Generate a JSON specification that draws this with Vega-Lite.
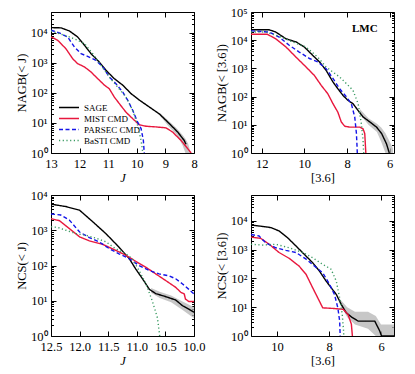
{
  "$schema": "https://vega.github.io/schema/vega-lite/v6.json",
  "background": "white",
  "padding": {"left": 14, "top": 5, "right": 5, "bottom": 0},
  "columns": 2,
  "spacing": {"row": 42, "column": 57},
  "bounds": "flush",
  "resolve": {"scale": {"color": "independent", "strokeDash": "independent"}, "legend": {"color": "independent", "strokeDash": "independent"}},
  "config": {
    "view": {"stroke": "black", "strokeWidth": 1},
    "axis": {"domain": false, "grid": false, "labelFont": "Liberation Serif", "labelFontSize": 12.5, "labelColor": "black", "titleFont": "Liberation Serif", "titleFontSize": 12.5, "titleFontWeight": "normal", "titleColor": "black", "tickColor": "black", "tickWidth": 1, "labelFlush": false, "labelOverlap": false, "labelPadding": 9},
    "legend": {"labelFont": "Liberation Serif", "labelFontSize": 9, "labelColor": "black"}
  },
  "datasets": {
    "tl": [
      {"s":"SAGE","x":13.0,"n":15100},{"s":"SAGE","x":12.65,"n":14800},{"s":"SAGE","x":12.36,"n":11700},{"s":"SAGE","x":12.07,"n":7400},{"s":"SAGE","x":11.83,"n":3900},{"s":"SAGE","x":11.6,"n":2040},{"s":"SAGE","x":11.31,"n":1070},{"s":"SAGE","x":11.08,"n":575},{"s":"SAGE","x":10.79,"n":302},{"s":"SAGE","x":10.49,"n":182},{"s":"SAGE","x":10.2,"n":95},{"s":"SAGE","x":9.91,"n":58},{"s":"SAGE","x":9.56,"n":34},{"s":"SAGE","x":9.21,"n":20},{"s":"SAGE","x":8.86,"n":9.5},{"s":"SAGE","x":8.57,"n":5.0},{"s":"SAGE","x":8.34,"n":2.6},{"s":"SAGE","x":8.28,"n":1.95},
      {"s":"MIST CMD","x":13.0,"n":7400},{"s":"MIST CMD","x":12.77,"n":5750},{"s":"MIST CMD","x":12.48,"n":3000},{"s":"MIST CMD","x":12.24,"n":1380},{"s":"MIST CMD","x":12.07,"n":955},{"s":"MIST CMD","x":11.83,"n":740},{"s":"MIST CMD","x":11.6,"n":500},{"s":"MIST CMD","x":11.37,"n":302},{"s":"MIST CMD","x":11.13,"n":182},{"s":"MIST CMD","x":10.96,"n":138},{"s":"MIST CMD","x":10.79,"n":74},{"s":"MIST CMD","x":10.61,"n":44},{"s":"MIST CMD","x":10.38,"n":23},{"s":"MIST CMD","x":10.14,"n":13.8},{"s":"MIST CMD","x":9.91,"n":8.7},{"s":"MIST CMD","x":9.68,"n":7.8},{"s":"MIST CMD","x":9.33,"n":7.4},{"s":"MIST CMD","x":8.98,"n":6.9},{"s":"MIST CMD","x":8.75,"n":5.0},{"s":"MIST CMD","x":8.45,"n":2.6},{"s":"MIST CMD","x":8.22,"n":1.4},{"s":"MIST CMD","x":8.1,"n":1},
      {"s":"PARSEC CMD","x":13.0,"n":12300},{"s":"PARSEC CMD","x":12.71,"n":10000},{"s":"PARSEC CMD","x":12.42,"n":7400},{"s":"PARSEC CMD","x":12.18,"n":3400},{"s":"PARSEC CMD","x":11.95,"n":2040},{"s":"PARSEC CMD","x":11.72,"n":1660},{"s":"PARSEC CMD","x":11.43,"n":1230},{"s":"PARSEC CMD","x":11.19,"n":740},{"s":"PARSEC CMD","x":10.96,"n":340},{"s":"PARSEC CMD","x":10.73,"n":204},{"s":"PARSEC CMD","x":10.49,"n":107},{"s":"PARSEC CMD","x":10.32,"n":58},{"s":"PARSEC CMD","x":10.14,"n":26},{"s":"PARSEC CMD","x":9.97,"n":10.7},{"s":"PARSEC CMD","x":9.85,"n":6.5},{"s":"PARSEC CMD","x":9.77,"n":2.6},{"s":"PARSEC CMD","x":9.74,"n":1},
      {"s":"BaSTI CMD","x":13.0,"n":11700},{"s":"BaSTI CMD","x":12.71,"n":9500},{"s":"BaSTI CMD","x":12.36,"n":7400},{"s":"BaSTI CMD","x":12.07,"n":5750},{"s":"BaSTI CMD","x":11.83,"n":4400},{"s":"BaSTI CMD","x":11.54,"n":2040},{"s":"BaSTI CMD","x":11.25,"n":830},{"s":"BaSTI CMD","x":10.96,"n":340},{"s":"BaSTI CMD","x":10.67,"n":158},{"s":"BaSTI CMD","x":10.38,"n":74},{"s":"BaSTI CMD","x":10.14,"n":26},{"s":"BaSTI CMD","x":9.97,"n":8.3},{"s":"BaSTI CMD","x":9.85,"n":2.6},{"s":"BaSTI CMD","x":9.79,"n":1}
    ],
    "tl_band": [
      {"x":9.2,"lo":18,"hi":22},{"x":8.9,"lo":8,"hi":12},{"x":8.6,"lo":4,"hi":6.5},{"x":8.4,"lo":1.8,"hi":4},{"x":8.3,"lo":1,"hi":3},{"x":8.2,"lo":1,"hi":2},{"x":8.15,"lo":1,"hi":1.3}
    ],
    "tr": [
      {"s":"SAGE","x":12.5,"n":23400},{"s":"SAGE","x":11.65,"n":23400},{"s":"SAGE","x":11.34,"n":19500},{"s":"SAGE","x":10.86,"n":11200},{"s":"SAGE","x":10.39,"n":8700},{"s":"SAGE","x":10.0,"n":5750},{"s":"SAGE","x":9.61,"n":2900},{"s":"SAGE","x":9.29,"n":1700},{"s":"SAGE","x":8.98,"n":850},{"s":"SAGE","x":8.66,"n":330},{"s":"SAGE","x":8.43,"n":190},{"s":"SAGE","x":8.19,"n":110},{"s":"SAGE","x":7.96,"n":74},{"s":"SAGE","x":7.72,"n":56},{"s":"SAGE","x":7.48,"n":32},{"s":"SAGE","x":7.25,"n":19},{"s":"SAGE","x":6.93,"n":12.6},{"s":"SAGE","x":6.62,"n":8.3},{"s":"SAGE","x":6.38,"n":4.9},{"s":"SAGE","x":6.15,"n":2.1},{"s":"SAGE","x":6.02,"n":1},
      {"s":"MIST CMD","x":12.5,"n":16200},{"s":"MIST CMD","x":11.73,"n":16200},{"s":"MIST CMD","x":11.34,"n":11200},{"s":"MIST CMD","x":10.86,"n":5750},{"s":"MIST CMD","x":10.39,"n":2500},{"s":"MIST CMD","x":9.92,"n":1120},{"s":"MIST CMD","x":9.53,"n":560},{"s":"MIST CMD","x":9.21,"n":250},{"s":"MIST CMD","x":8.9,"n":126},{"s":"MIST CMD","x":8.66,"n":56},{"s":"MIST CMD","x":8.43,"n":28},{"s":"MIST CMD","x":8.27,"n":12.6},{"s":"MIST CMD","x":8.11,"n":8.9},{"s":"MIST CMD","x":7.88,"n":8.3},{"s":"MIST CMD","x":7.41,"n":8.3},{"s":"MIST CMD","x":7.25,"n":7.2},{"s":"MIST CMD","x":7.17,"n":4.9},{"s":"MIST CMD","x":7.12,"n":1},
      {"s":"PARSEC CMD","x":12.5,"n":21400},{"s":"PARSEC CMD","x":11.65,"n":19500},{"s":"PARSEC CMD","x":11.18,"n":12900},{"s":"PARSEC CMD","x":10.71,"n":6600},{"s":"PARSEC CMD","x":10.24,"n":3800},{"s":"PARSEC CMD","x":9.76,"n":2240},{"s":"PARSEC CMD","x":9.37,"n":1700},{"s":"PARSEC CMD","x":8.98,"n":980},{"s":"PARSEC CMD","x":8.66,"n":440},{"s":"PARSEC CMD","x":8.35,"n":190},{"s":"PARSEC CMD","x":8.03,"n":98},{"s":"PARSEC CMD","x":7.8,"n":56},{"s":"PARSEC CMD","x":7.64,"n":19},{"s":"PARSEC CMD","x":7.56,"n":4.9},{"s":"PARSEC CMD","x":7.53,"n":1.6},{"s":"PARSEC CMD","x":7.52,"n":1},
      {"s":"BaSTI CMD","x":12.5,"n":19500},{"s":"BaSTI CMD","x":11.81,"n":19500},{"s":"BaSTI CMD","x":11.18,"n":13800},{"s":"BaSTI CMD","x":10.55,"n":8700},{"s":"BaSTI CMD","x":9.92,"n":5750},{"s":"BaSTI CMD","x":9.37,"n":2500},{"s":"BaSTI CMD","x":8.98,"n":1120},{"s":"BaSTI CMD","x":8.66,"n":740},{"s":"BaSTI CMD","x":8.35,"n":500},{"s":"BaSTI CMD","x":8.03,"n":290},{"s":"BaSTI CMD","x":7.72,"n":166},{"s":"BaSTI CMD","x":7.48,"n":56},{"s":"BaSTI CMD","x":7.33,"n":11},{"s":"BaSTI CMD","x":7.25,"n":2.8},{"s":"BaSTI CMD","x":7.22,"n":1}
    ],
    "tr_band": [
      {"x":7.4,"lo":24,"hi":36},{"x":7.0,"lo":10,"hi":17},{"x":6.6,"lo":5.5,"hi":11},{"x":6.4,"lo":2.5,"hi":8},{"x":6.2,"lo":1,"hi":5},{"x":6.0,"lo":1,"hi":2.5},{"x":5.85,"lo":1,"hi":1.5}
    ],
    "bl": [
      {"s":"SAGE","x":12.5,"n":5500},{"s":"SAGE","x":12.24,"n":4700},{"s":"SAGE","x":12.0,"n":3700},{"s":"SAGE","x":11.77,"n":1740},{"s":"SAGE","x":11.54,"n":800},{"s":"SAGE","x":11.31,"n":330},{"s":"SAGE","x":11.13,"n":155},{"s":"SAGE","x":11.02,"n":80},{"s":"SAGE","x":10.9,"n":42},{"s":"SAGE","x":10.78,"n":21},{"s":"SAGE","x":10.67,"n":16},{"s":"SAGE","x":10.49,"n":13},{"s":"SAGE","x":10.32,"n":10.5},{"s":"SAGE","x":10.2,"n":7.2},{"s":"SAGE","x":10.09,"n":5.8},{"s":"SAGE","x":10.0,"n":4.7},
      {"s":"MIST CMD","x":12.5,"n":2140},{"s":"MIST CMD","x":12.35,"n":1860},{"s":"MIST CMD","x":12.18,"n":1120},{"s":"MIST CMD","x":12.0,"n":650},{"s":"MIST CMD","x":11.83,"n":500},{"s":"MIST CMD","x":11.6,"n":400},{"s":"MIST CMD","x":11.37,"n":270},{"s":"MIST CMD","x":11.19,"n":195},{"s":"MIST CMD","x":11.02,"n":132},{"s":"MIST CMD","x":10.84,"n":89},{"s":"MIST CMD","x":10.67,"n":58},{"s":"MIST CMD","x":10.49,"n":37},{"s":"MIST CMD","x":10.32,"n":24},{"s":"MIST CMD","x":10.23,"n":17.4},{"s":"MIST CMD","x":10.17,"n":15.5},{"s":"MIST CMD","x":10.15,"n":11.2},{"s":"MIST CMD","x":10.09,"n":9.5},{"s":"MIST CMD","x":10.0,"n":9.5},
      {"s":"PARSEC CMD","x":12.5,"n":2900},{"s":"PARSEC CMD","x":12.33,"n":2700},{"s":"PARSEC CMD","x":12.18,"n":1950},{"s":"PARSEC CMD","x":12.0,"n":890},{"s":"PARSEC CMD","x":11.83,"n":620},{"s":"PARSEC CMD","x":11.66,"n":470},{"s":"PARSEC CMD","x":11.48,"n":300},{"s":"PARSEC CMD","x":11.31,"n":214},{"s":"PARSEC CMD","x":11.13,"n":155},{"s":"PARSEC CMD","x":10.96,"n":100},{"s":"PARSEC CMD","x":10.78,"n":72},{"s":"PARSEC CMD","x":10.61,"n":58},{"s":"PARSEC CMD","x":10.44,"n":51},{"s":"PARSEC CMD","x":10.32,"n":42},{"s":"PARSEC CMD","x":10.2,"n":30},{"s":"PARSEC CMD","x":10.09,"n":21},{"s":"PARSEC CMD","x":10.0,"n":15.5},
      {"s":"BaSTI CMD","x":12.5,"n":1260},{"s":"BaSTI CMD","x":12.38,"n":1200},{"s":"BaSTI CMD","x":12.24,"n":1000},{"s":"BaSTI CMD","x":12.06,"n":800},{"s":"BaSTI CMD","x":11.89,"n":720},{"s":"BaSTI CMD","x":11.72,"n":600},{"s":"BaSTI CMD","x":11.54,"n":470},{"s":"BaSTI CMD","x":11.37,"n":300},{"s":"BaSTI CMD","x":11.19,"n":214},{"s":"BaSTI CMD","x":11.08,"n":155},{"s":"BaSTI CMD","x":10.96,"n":72},{"s":"BaSTI CMD","x":10.84,"n":30},{"s":"BaSTI CMD","x":10.73,"n":10},{"s":"BaSTI CMD","x":10.64,"n":3.3},{"s":"BaSTI CMD","x":10.61,"n":1.4},{"s":"BaSTI CMD","x":10.6,"n":1}
    ],
    "bl_band": [
      {"x":10.75,"lo":17,"hi":23},{"x":10.6,"lo":12,"hi":18},{"x":10.4,"lo":9,"hi":14},{"x":10.2,"lo":5.5,"hi":9.5},{"x":10.0,"lo":3.2,"hi":6.5}
    ],
    "br": [
      {"s":"SAGE","x":11.0,"n":7200},{"s":"SAGE","x":10.63,"n":6600},{"s":"SAGE","x":10.24,"n":5900},{"s":"SAGE","x":9.92,"n":4500},{"s":"SAGE","x":9.59,"n":2600},{"s":"SAGE","x":9.27,"n":1350},{"s":"SAGE","x":8.95,"n":690},{"s":"SAGE","x":8.63,"n":355},{"s":"SAGE","x":8.37,"n":182},{"s":"SAGE","x":8.11,"n":81},{"s":"SAGE","x":7.92,"n":48},{"s":"SAGE","x":7.72,"n":28},{"s":"SAGE","x":7.53,"n":12.6},{"s":"SAGE","x":7.34,"n":6.5},{"s":"SAGE","x":7.14,"n":4.6},{"s":"SAGE","x":6.88,"n":3.3},{"s":"SAGE","x":6.24,"n":3.3},{"s":"SAGE","x":6.05,"n":1.5},{"s":"SAGE","x":5.98,"n":1},{"s":"SAGE","x":5.5,"n":1},
      {"s":"MIST CMD","x":11.0,"n":2750},{"s":"MIST CMD","x":10.63,"n":2500},{"s":"MIST CMD","x":10.3,"n":1550},{"s":"MIST CMD","x":9.92,"n":800},{"s":"MIST CMD","x":9.53,"n":500},{"s":"MIST CMD","x":9.15,"n":270},{"s":"MIST CMD","x":8.88,"n":138},{"s":"MIST CMD","x":8.63,"n":48},{"s":"MIST CMD","x":8.43,"n":21},{"s":"MIST CMD","x":8.24,"n":9.5},{"s":"MIST CMD","x":7.85,"n":9.1},{"s":"MIST CMD","x":7.46,"n":8.5},{"s":"MIST CMD","x":7.27,"n":5.6},{"s":"MIST CMD","x":7.14,"n":2.6},{"s":"MIST CMD","x":7.1,"n":1},
      {"s":"PARSEC CMD","x":11.0,"n":3400},{"s":"PARSEC CMD","x":10.69,"n":3000},{"s":"PARSEC CMD","x":10.43,"n":1740},{"s":"PARSEC CMD","x":10.05,"n":1170},{"s":"PARSEC CMD","x":9.66,"n":950},{"s":"PARSEC CMD","x":9.27,"n":800},{"s":"PARSEC CMD","x":8.88,"n":470},{"s":"PARSEC CMD","x":8.56,"n":270},{"s":"PARSEC CMD","x":8.24,"n":158},{"s":"PARSEC CMD","x":7.98,"n":63},{"s":"PARSEC CMD","x":7.79,"n":28},{"s":"PARSEC CMD","x":7.66,"n":9.5},{"s":"PARSEC CMD","x":7.59,"n":3.3},{"s":"PARSEC CMD","x":7.57,"n":1},
      {"s":"BaSTI CMD","x":11.0,"n":1550},{"s":"BaSTI CMD","x":10.56,"n":1450},{"s":"BaSTI CMD","x":10.05,"n":1550},{"s":"BaSTI CMD","x":9.53,"n":1170},{"s":"BaSTI CMD","x":9.01,"n":800},{"s":"BaSTI CMD","x":8.63,"n":525},{"s":"BaSTI CMD","x":8.24,"n":310},{"s":"BaSTI CMD","x":7.92,"n":210},{"s":"BaSTI CMD","x":7.72,"n":81},{"s":"BaSTI CMD","x":7.59,"n":21},{"s":"BaSTI CMD","x":7.49,"n":5.6},{"s":"BaSTI CMD","x":7.44,"n":1.5},{"s":"BaSTI CMD","x":7.43,"n":1}
    ],
    "br_band": [
      {"x":7.6,"lo":14,"hi":20},{"x":7.3,"lo":4.5,"hi":10},{"x":7.0,"lo":2.5,"hi":7},{"x":6.5,"lo":1.8,"hi":7},{"x":6.2,"lo":1,"hi":5},{"x":6.0,"lo":1,"hi":2.5},{"x":5.5,"lo":1,"hi":2.5}
    ],
    "lmc": [{"x":7.17,"y":25000,"t":"LMC"}]
  },
  "concat": [
    {
      "width": 143, "height": 141,
      "layer": [
        {"data": {"name": "tl_band"}, "mark": {"type": "area", "color": "#b4b4b4", "opacity": 0.75, "clip": true},
         "encoding": {"x": {"field": "x", "type": "quantitative", "scale": {"domain": [13, 8], "nice": false, "zero": false}, "axis": null},
                      "y": {"field": "lo", "type": "quantitative", "scale": {"type": "log", "domain": [1, 50000], "nice": false}, "axis": null},
                      "y2": {"field": "hi"}}},
        {"data": {"name": "tl"}, "mark": {"type": "line", "strokeWidth": 1.4, "clip": true},
         "encoding": {"x": {"field": "x", "type": "quantitative", "scale": {"domain": [13, 8], "nice": false, "zero": false}, "axis": {"orient": "bottom", "values": [13, 12, 11, 10, 9, 8], "format": "d", "title": "J", "titleFontStyle": "italic", "tickSize": -5, "titlePadding": 2}},
                      "y": {"field": "n", "type": "quantitative", "scale": {"type": "log", "domain": [1, 50000], "nice": false}, "axis": {"orient": "left", "title": "NAGB(< J)", "titlePadding": 2, "values": [1,2,3,4,5,6,7,8,9,10,20,30,40,50,60,70,80,90,100,200,300,400,500,600,700,800,900,1000,2000,3000,4000,5000,6000,7000,8000,9000,10000,20000,30000,40000,50000], "tickSize": {"condition": {"test": "abs(log(datum.value)/LN10 - round(log(datum.value)/LN10)) < 0.001", "value": -5}, "value": -2.5}, "labelExpr": "abs(log(datum.value)/LN10 - round(log(datum.value)/LN10)) < 0.001 ? '10' + ['⁰','¹','²','³','⁴','⁵'][round(log(datum.value)/LN10)] : ''"}},
                      "color": {"field": "s", "type": "nominal", "scale": {"domain": ["SAGE", "MIST CMD", "PARSEC CMD", "BaSTI CMD"], "range": ["#000000", "#e8173d", "#1414e8", "#3a9a62"]}, "legend": {"title": null, "orient": "bottom-left", "offset": 7, "symbolType": "stroke", "symbolSize": 400, "symbolStrokeWidth": 1.6, "rowPadding": 0, "clipHeight": 11, "labelOffset": 4}},
                      "strokeDash": {"field": "s", "type": "nominal", "scale": {"domain": ["SAGE", "MIST CMD", "PARSEC CMD", "BaSTI CMD"], "range": [[1, 0], [1, 0], [4, 2.5], [1.2, 2.5]]}, "legend": {"title": null, "orient": "bottom-left", "offset": 7, "symbolType": "stroke", "symbolSize": 400, "symbolStrokeWidth": 1.6, "rowPadding": 0, "clipHeight": 11, "labelOffset": 4}}}},
        {"data": {"name": "tl"}, "mark": {"type": "point", "opacity": 0},
         "encoding": {"x": {"field": "x", "type": "quantitative", "scale": {"domain": [13, 8], "nice": false, "zero": false}, "axis": {"orient": "top", "values": [13, 12, 11, 10, 9, 8], "labels": false, "title": null, "tickSize": -5}},
                      "y": {"field": "n", "type": "quantitative", "scale": {"type": "log", "domain": [1, 50000], "nice": false}, "axis": {"orient": "right", "title": null, "labels": false, "values": [1,2,3,4,5,6,7,8,9,10,20,30,40,50,60,70,80,90,100,200,300,400,500,600,700,800,900,1000,2000,3000,4000,5000,6000,7000,8000,9000,10000,20000,30000,40000,50000], "tickSize": {"condition": {"test": "abs(log(datum.value)/LN10 - round(log(datum.value)/LN10)) < 0.001", "value": -5}, "value": -2.5}}}}}
      ],
      "resolve": {"axis": {"x": "independent", "y": "independent"}}
    },
    {
      "width": 143, "height": 141,
      "layer": [
        {"data": {"name": "tr_band"}, "mark": {"type": "area", "color": "#b4b4b4", "opacity": 0.75, "clip": true},
         "encoding": {"x": {"field": "x", "type": "quantitative", "scale": {"domain": [12.5, 5.8], "nice": false, "zero": false}, "axis": null},
                      "y": {"field": "lo", "type": "quantitative", "scale": {"type": "log", "domain": [1, 100000], "nice": false}, "axis": null},
                      "y2": {"field": "hi"}}},
        {"data": {"name": "tr"}, "mark": {"type": "line", "strokeWidth": 1.4, "clip": true},
         "encoding": {"x": {"field": "x", "type": "quantitative", "scale": {"domain": [12.5, 5.8], "nice": false, "zero": false}, "axis": {"orient": "bottom", "values": [12, 10, 8, 6], "format": "d", "title": "[3.6]", "tickSize": -5, "titlePadding": 2}},
                      "y": {"field": "n", "type": "quantitative", "scale": {"type": "log", "domain": [1, 100000], "nice": false}, "axis": {"orient": "left", "title": "NAGB(< [3.6])", "titlePadding": 2, "values": [1,2,3,4,5,6,7,8,9,10,20,30,40,50,60,70,80,90,100,200,300,400,500,600,700,800,900,1000,2000,3000,4000,5000,6000,7000,8000,9000,10000,20000,30000,40000,50000,60000,70000,80000,90000,100000], "tickSize": {"condition": {"test": "abs(log(datum.value)/LN10 - round(log(datum.value)/LN10)) < 0.001", "value": -5}, "value": -2.5}, "labelExpr": "abs(log(datum.value)/LN10 - round(log(datum.value)/LN10)) < 0.001 ? '10' + ['⁰','¹','²','³','⁴','⁵'][round(log(datum.value)/LN10)] : ''"}},
                      "color": {"field": "s", "type": "nominal", "scale": {"domain": ["SAGE", "MIST CMD", "PARSEC CMD", "BaSTI CMD"], "range": ["#000000", "#e8173d", "#1414e8", "#3a9a62"]}, "legend": null},
                      "strokeDash": {"field": "s", "type": "nominal", "scale": {"domain": ["SAGE", "MIST CMD", "PARSEC CMD", "BaSTI CMD"], "range": [[1, 0], [1, 0], [4, 2.5], [1.2, 2.5]]}, "legend": null}}},
        {"data": {"name": "lmc"}, "mark": {"type": "text", "font": "Liberation Serif", "fontWeight": "bold", "fontSize": 11, "color": "black"},
         "encoding": {"x": {"field": "x", "type": "quantitative", "axis": null}, "y": {"field": "y", "type": "quantitative", "axis": null}, "text": {"field": "t"}}},
        {"data": {"name": "tr"}, "mark": {"type": "point", "opacity": 0},
         "encoding": {"x": {"field": "x", "type": "quantitative", "scale": {"domain": [12.5, 5.8], "nice": false, "zero": false}, "axis": {"orient": "top", "values": [12, 10, 8, 6], "labels": false, "title": null, "tickSize": -5}},
                      "y": {"field": "n", "type": "quantitative", "scale": {"type": "log", "domain": [1, 100000], "nice": false}, "axis": {"orient": "right", "title": null, "labels": false, "values": [1,2,3,4,5,6,7,8,9,10,20,30,40,50,60,70,80,90,100,200,300,400,500,600,700,800,900,1000,2000,3000,4000,5000,6000,7000,8000,9000,10000,20000,30000,40000,50000,60000,70000,80000,90000,100000], "tickSize": {"condition": {"test": "abs(log(datum.value)/LN10 - round(log(datum.value)/LN10)) < 0.001", "value": -5}, "value": -2.5}}}}}
      ],
      "resolve": {"axis": {"x": "independent", "y": "independent"}}
    },
    {
      "width": 143, "height": 141,
      "layer": [
        {"data": {"name": "bl_band"}, "mark": {"type": "area", "color": "#b4b4b4", "opacity": 0.75, "clip": true},
         "encoding": {"x": {"field": "x", "type": "quantitative", "scale": {"domain": [12.5, 10.0], "nice": false, "zero": false}, "axis": null},
                      "y": {"field": "lo", "type": "quantitative", "scale": {"type": "log", "domain": [1, 10000], "nice": false}, "axis": null},
                      "y2": {"field": "hi"}}},
        {"data": {"name": "bl"}, "mark": {"type": "line", "strokeWidth": 1.4, "clip": true},
         "encoding": {"x": {"field": "x", "type": "quantitative", "scale": {"domain": [12.5, 10.0], "nice": false, "zero": false}, "axis": {"orient": "bottom", "values": [12.5, 12.0, 11.5, 11.0, 10.5, 10.0], "format": ".1f", "title": "J", "titleFontStyle": "italic", "tickSize": -5, "titlePadding": 2}},
                      "y": {"field": "n", "type": "quantitative", "scale": {"type": "log", "domain": [1, 10000], "nice": false}, "axis": {"orient": "left", "title": "NCS(< J)", "titlePadding": 2, "values": [1,2,3,4,5,6,7,8,9,10,20,30,40,50,60,70,80,90,100,200,300,400,500,600,700,800,900,1000,2000,3000,4000,5000,6000,7000,8000,9000,10000], "tickSize": {"condition": {"test": "abs(log(datum.value)/LN10 - round(log(datum.value)/LN10)) < 0.001", "value": -5}, "value": -2.5}, "labelExpr": "abs(log(datum.value)/LN10 - round(log(datum.value)/LN10)) < 0.001 ? '10' + ['⁰','¹','²','³','⁴','⁵'][round(log(datum.value)/LN10)] : ''"}},
                      "color": {"field": "s", "type": "nominal", "scale": {"domain": ["SAGE", "MIST CMD", "PARSEC CMD", "BaSTI CMD"], "range": ["#000000", "#e8173d", "#1414e8", "#3a9a62"]}, "legend": null},
                      "strokeDash": {"field": "s", "type": "nominal", "scale": {"domain": ["SAGE", "MIST CMD", "PARSEC CMD", "BaSTI CMD"], "range": [[1, 0], [1, 0], [4, 2.5], [1.2, 2.5]]}, "legend": null}}},
        {"data": {"name": "bl"}, "mark": {"type": "point", "opacity": 0},
         "encoding": {"x": {"field": "x", "type": "quantitative", "scale": {"domain": [12.5, 10.0], "nice": false, "zero": false}, "axis": {"orient": "top", "values": [12.5, 12.0, 11.5, 11.0, 10.5, 10.0], "labels": false, "title": null, "tickSize": -5}},
                      "y": {"field": "n", "type": "quantitative", "scale": {"type": "log", "domain": [1, 10000], "nice": false}, "axis": {"orient": "right", "title": null, "labels": false, "values": [1,2,3,4,5,6,7,8,9,10,20,30,40,50,60,70,80,90,100,200,300,400,500,600,700,800,900,1000,2000,3000,4000,5000,6000,7000,8000,9000,10000], "tickSize": {"condition": {"test": "abs(log(datum.value)/LN10 - round(log(datum.value)/LN10)) < 0.001", "value": -5}, "value": -2.5}}}}}
      ],
      "resolve": {"axis": {"x": "independent", "y": "independent"}}
    },
    {
      "width": 143, "height": 141,
      "layer": [
        {"data": {"name": "br_band"}, "mark": {"type": "area", "color": "#b4b4b4", "opacity": 0.75, "clip": true},
         "encoding": {"x": {"field": "x", "type": "quantitative", "scale": {"domain": [11.0, 5.5], "nice": false, "zero": false}, "axis": null},
                      "y": {"field": "lo", "type": "quantitative", "scale": {"type": "log", "domain": [1, 80000], "nice": false}, "axis": null},
                      "y2": {"field": "hi"}}},
        {"data": {"name": "br"}, "mark": {"type": "line", "strokeWidth": 1.4, "clip": true},
         "encoding": {"x": {"field": "x", "type": "quantitative", "scale": {"domain": [11.0, 5.5], "nice": false, "zero": false}, "axis": {"orient": "bottom", "values": [10, 8, 6], "format": "d", "title": "[3.6]", "tickSize": -5, "titlePadding": 2}},
                      "y": {"field": "n", "type": "quantitative", "scale": {"type": "log", "domain": [1, 80000], "nice": false}, "axis": {"orient": "left", "title": "NCS(< [3.6])", "titlePadding": 2, "values": [1,2,3,4,5,6,7,8,9,10,20,30,40,50,60,70,80,90,100,200,300,400,500,600,700,800,900,1000,2000,3000,4000,5000,6000,7000,8000,9000,10000,20000,30000,40000,50000,60000,70000,80000], "tickSize": {"condition": {"test": "abs(log(datum.value)/LN10 - round(log(datum.value)/LN10)) < 0.001", "value": -5}, "value": -2.5}, "labelExpr": "abs(log(datum.value)/LN10 - round(log(datum.value)/LN10)) < 0.001 ? '10' + ['⁰','¹','²','³','⁴','⁵'][round(log(datum.value)/LN10)] : ''"}},
                      "color": {"field": "s", "type": "nominal", "scale": {"domain": ["SAGE", "MIST CMD", "PARSEC CMD", "BaSTI CMD"], "range": ["#000000", "#e8173d", "#1414e8", "#3a9a62"]}, "legend": null},
                      "strokeDash": {"field": "s", "type": "nominal", "scale": {"domain": ["SAGE", "MIST CMD", "PARSEC CMD", "BaSTI CMD"], "range": [[1, 0], [1, 0], [4, 2.5], [1.2, 2.5]]}, "legend": null}}},
        {"data": {"name": "br"}, "mark": {"type": "point", "opacity": 0},
         "encoding": {"x": {"field": "x", "type": "quantitative", "scale": {"domain": [11.0, 5.5], "nice": false, "zero": false}, "axis": {"orient": "top", "values": [10, 8, 6], "labels": false, "title": null, "tickSize": -5}},
                      "y": {"field": "n", "type": "quantitative", "scale": {"type": "log", "domain": [1, 80000], "nice": false}, "axis": {"orient": "right", "title": null, "labels": false, "values": [1,2,3,4,5,6,7,8,9,10,20,30,40,50,60,70,80,90,100,200,300,400,500,600,700,800,900,1000,2000,3000,4000,5000,6000,7000,8000,9000,10000,20000,30000,40000,50000,60000,70000,80000], "tickSize": {"condition": {"test": "abs(log(datum.value)/LN10 - round(log(datum.value)/LN10)) < 0.001", "value": -5}, "value": -2.5}}}}}
      ],
      "resolve": {"axis": {"x": "independent", "y": "independent"}}
    }
  ]
}
